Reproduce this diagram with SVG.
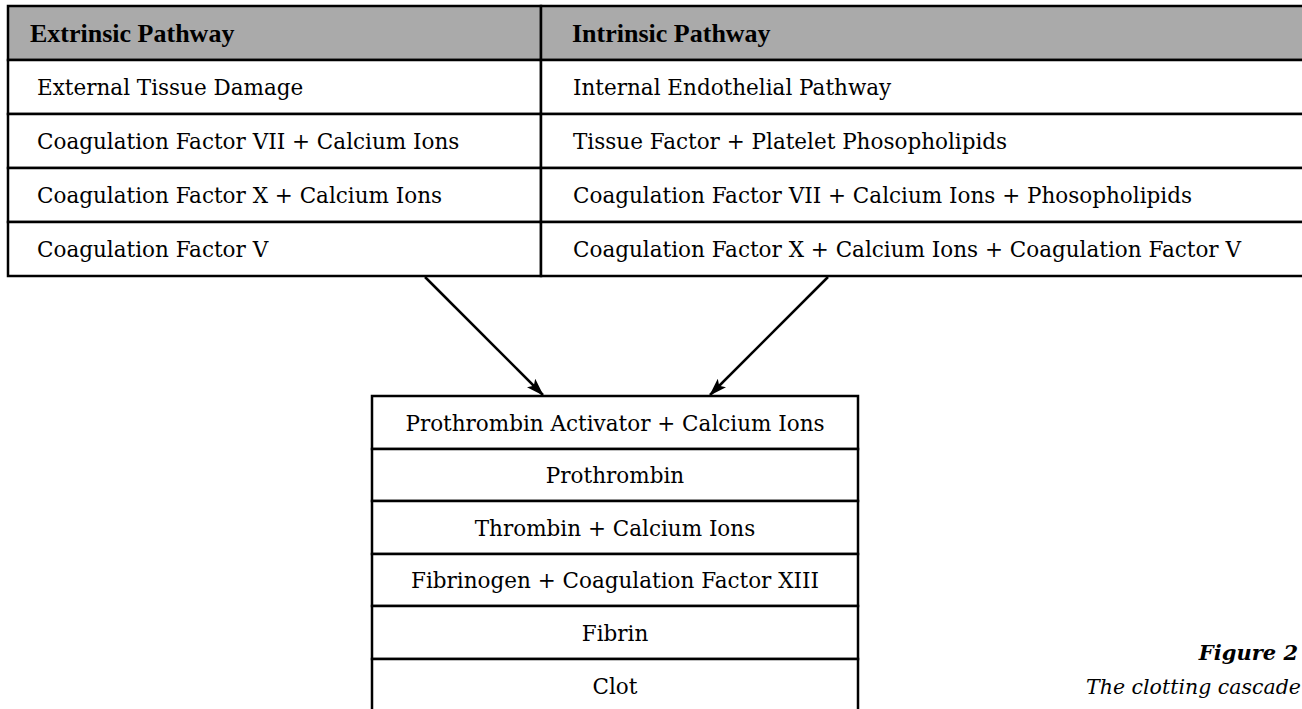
<svg xmlns="http://www.w3.org/2000/svg" width="1302" height="709" viewBox="0 0 1302 709">
  <style>
    .cell { fill: #ffffff; stroke: #000; stroke-width: 2.5; }
    .hdr { fill: #aaaaaa; stroke: #000; stroke-width: 2.5; }
    .txt { font-family: "DejaVu Serif", "Liberation Serif", serif; font-size: 21.5px; fill: #000; }
    .htxt { font-family: "Liberation Serif", "DejaVu Serif", serif; font-size: 26px; font-weight: bold; fill: #000; }
    .mid { text-anchor: middle; }
    .cap1 { font-family: "DejaVu Serif", "Liberation Serif", serif; font-size: 21px; font-weight: bold; font-style: italic; text-anchor: end; fill: #000; }
    .cap2 { font-family: "DejaVu Serif", "Liberation Serif", serif; font-size: 20.5px; font-style: italic; text-anchor: end; fill: #000; }
    .conn { stroke: #000; stroke-width: 2.5; fill: none; marker-end: url(#arrow); }
  </style>
  <defs>
    <marker id="arrow" viewBox="0 0 18 12" refX="17" refY="6" markerWidth="18" markerHeight="12" markerUnits="userSpaceOnUse" orient="auto">
      <path d="M0,0 L18,6 L0,12 L4,6 Z" fill="#000"/>
    </marker>
  </defs>

  <rect width="1302" height="709" fill="#fff"/>

  <g id="extrinsic-pathway">
    <rect class="hdr" x="8" y="6" width="533" height="54"/>
    <text class="htxt" x="30" y="42">Extrinsic Pathway</text>
    <rect class="cell" x="8" y="60" width="533" height="54"/>
    <text class="txt" x="37" y="95">External Tissue Damage</text>
    <rect class="cell" x="8" y="114" width="533" height="54"/>
    <text class="txt" x="37" y="149">Coagulation Factor VII + Calcium Ions</text>
    <rect class="cell" x="8" y="168" width="533" height="54"/>
    <text class="txt" x="37" y="203">Coagulation Factor X + Calcium Ions</text>
    <rect class="cell" x="8" y="222" width="533" height="54"/>
    <text class="txt" x="37" y="257">Coagulation Factor V</text>
  </g>

  <g id="intrinsic-pathway">
    <rect class="hdr" x="541" y="6" width="780" height="54"/>
    <text class="htxt" x="572" y="42">Intrinsic Pathway</text>
    <rect class="cell" x="541" y="60" width="780" height="54"/>
    <text class="txt" x="573" y="95">Internal Endothelial Pathway</text>
    <rect class="cell" x="541" y="114" width="780" height="54"/>
    <text class="txt" x="573" y="149">Tissue Factor + Platelet Phosopholipids</text>
    <rect class="cell" x="541" y="168" width="780" height="54"/>
    <text class="txt" x="573" y="203">Coagulation Factor VII + Calcium Ions + Phosopholipids</text>
    <rect class="cell" x="541" y="222" width="780" height="54"/>
    <text class="txt" x="573" y="257">Coagulation Factor X + Calcium Ions + Coagulation Factor V</text>
  </g>

  <g id="connectors">
    <line class="conn" x1="425" y1="277" x2="543" y2="395"/>
    <line class="conn" x1="828" y1="277" x2="710" y2="395"/>
  </g>

  <g id="common-pathway">
    <rect class="cell" x="372" y="396" width="486" height="53"/>
    <text class="txt mid" x="615" y="430.5">Prothrombin Activator + Calcium Ions</text>
    <rect class="cell" x="372" y="449" width="486" height="52"/>
    <text class="txt mid" x="615" y="483">Prothrombin</text>
    <rect class="cell" x="372" y="501" width="486" height="53"/>
    <text class="txt mid" x="615" y="535.5">Thrombin + Calcium Ions</text>
    <rect class="cell" x="372" y="554" width="486" height="52"/>
    <text class="txt mid" x="615" y="588">Fibrinogen + Coagulation Factor XIII</text>
    <rect class="cell" x="372" y="606" width="486" height="53"/>
    <text class="txt mid" x="615" y="640.5">Fibrin</text>
    <rect class="cell" x="372" y="659" width="486" height="70"/>
    <text class="txt mid" x="615" y="694">Clot</text>
  </g>

  <g id="caption">
    <text class="cap1" x="1298" y="660">Figure 2</text>
    <text class="cap2" x="1301" y="694">The clotting cascade</text>
  </g>
</svg>
